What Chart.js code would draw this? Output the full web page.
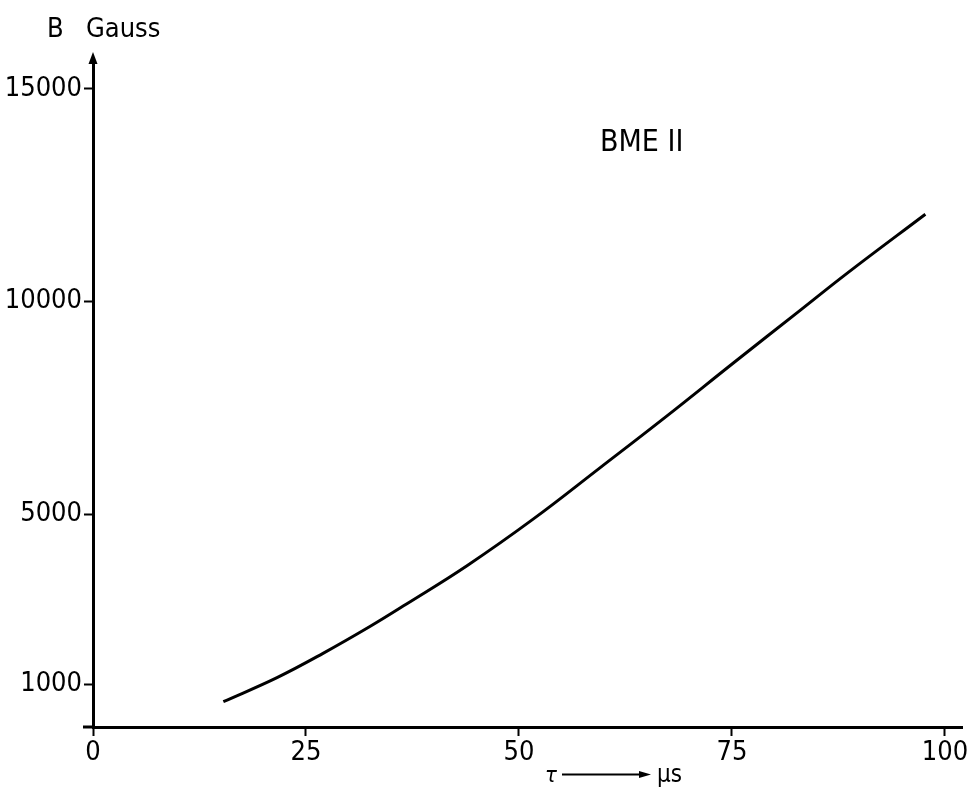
<!DOCTYPE html>
<html>
<head>
<meta charset="utf-8">
<script src="https://cdn.jsdelivr.net/npm/chart.js@4/dist/chart.umd.min.js"></script>
<style>
  html, body { margin: 0; padding: 0; background: #fff; }
  #wrap { width: 976px; height: 796px; }
</style>
</head>
<body>
<div id="wrap"><canvas id="c" width="976" height="796"></canvas></div>
<script>
// ---- data ----
const tau    = [15.3, 21.6, 27.0, 32.5, 36.8, 43.9, 51.7, 59.5, 67.3, 75.2, 83.0, 88.5, 97.7];
const bField = [594, 1160, 1730, 2360, 2890, 3790, 4890, 6090, 7300, 8560, 9790, 10660, 12050];
const xTicks = [0, 25, 50, 75, 100];
const xTickLabels = ['0', '25', '50', '75', '100'];
const yTicks = [1000, 5000, 10000, 15000];
const yTickLabels = ['1000', '5000', '10000', '15000'];
const yAxisTitle = ['B', 'Gauss'];
const curveLabel = 'BME II';
const xAxisTitle = ['τ', 'μs'];

const FONT = "'Liberation Sans Narrow', 'DejaVu Sans Condensed', 'Liberation Sans', sans-serif";

const points = tau.map((t, i) => ({ x: t, y: bField[i] }));

const decor = {
  id: 'decor',
  afterDraw(chart) {
    const ctx = chart.ctx;
    const a = chart.chartArea;
    ctx.save();
    ctx.fillStyle = '#000';
    ctx.strokeStyle = '#000';
    // y-axis arrow head
    ctx.lineWidth = 3;
    ctx.beginPath();
    ctx.moveTo(a.left, a.top + 2);
    ctx.lineTo(a.left, a.top - 2);
    ctx.stroke();
    ctx.beginPath();
    ctx.moveTo(a.left, a.top - 9);
    ctx.lineTo(a.left - 4.5, a.top + 3);
    ctx.lineTo(a.left + 4.5, a.top + 3);
    ctx.closePath();
    ctx.fill();
    // x-axis overhang to the left
    ctx.beginPath();
    ctx.moveTo(a.left - 10, a.bottom);
    ctx.lineTo(a.left, a.bottom);
    ctx.stroke();
    // y axis title
    ctx.textBaseline = 'alphabetic';
    ctx.textAlign = 'left';
    ctx.font = '27px ' + FONT;
    ctx.fillText(yAxisTitle[0], 47, 37);
    ctx.fillText(yAxisTitle[1], 86, 37);
    // curve label
    ctx.font = '30px ' + FONT;
    ctx.fillText(curveLabel, 600, 151);
    // x axis title: tau ---> mus
    ctx.font = 'italic 22px ' + FONT;
    ctx.fillText(xAxisTitle[0], 545, 782);
    ctx.lineWidth = 2;
    ctx.beginPath();
    ctx.moveTo(562, 774.5);
    ctx.lineTo(642, 774.5);
    ctx.stroke();
    ctx.beginPath();
    ctx.moveTo(651, 774.5);
    ctx.lineTo(639, 771);
    ctx.lineTo(639, 778);
    ctx.closePath();
    ctx.fill();
    ctx.font = '24px ' + FONT;
    ctx.fillText(xAxisTitle[1], 657, 782);
    ctx.restore();
  }
};

new Chart(document.getElementById('c'), {
  type: 'line',
  data: {
    datasets: [{
      data: points,
      borderColor: '#000',
      borderWidth: 3,
      pointRadius: 0,
      fill: false,
      tension: 0.4
    }]
  },
  options: {
    responsive: false,
    animation: false,
    events: [],
    layout: { padding: { left: 0, right: 14, top: 61, bottom: 0 } },
    plugins: { legend: { display: false }, tooltip: { enabled: false } },
    scales: {
      x: {
        type: 'linear',
        min: 0,
        max: 102,
        afterBuildTicks: s => { s.ticks = xTicks.map(v => ({ value: v })); },
        afterFit: s => { s.height = 69; },
        ticks: {
          color: '#000',
          font: { family: FONT, size: 27 },
          padding: 1,
          maxRotation: 0,
          autoSkip: false,
          callback: (v) => xTickLabels[xTicks.indexOf(v)]
        },
        grid: { drawOnChartArea: false, drawTicks: true, tickLength: 9, tickWidth: 2, tickColor: '#000' },
        border: { color: '#000', width: 3 }
      },
      y: {
        type: 'linear',
        min: 0,
        max: 15650,
        afterBuildTicks: s => { s.ticks = yTicks.map(v => ({ value: v })); },
        afterFit: s => { s.width = 93; },
        ticks: {
          color: '#000',
          font: { family: FONT, size: 27 },
          padding: 2,
          autoSkip: false,
          callback: (v) => yTickLabels[yTicks.indexOf(v)]
        },
        grid: { drawOnChartArea: false, drawTicks: true, tickLength: 9, tickWidth: 2, tickColor: '#000' },
        border: { color: '#000', width: 3 }
      }
    }
  },
  plugins: [decor]
});
</script>
</body>
</html>
